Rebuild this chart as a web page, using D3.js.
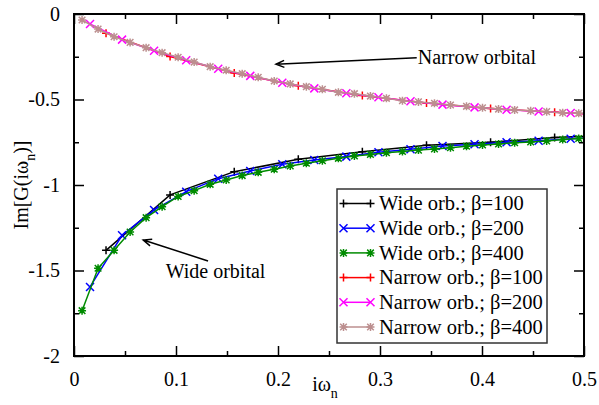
<!DOCTYPE html>
<html>
<head>
<meta charset="utf-8">
<script src="https://cdn.jsdelivr.net/npm/d3@7"></script>
</head>
<body style="margin:0;background:#fff">
<svg id="chart" width="599" height="405" style="display:block"></svg>
<script>
// Matsubara frequencies (last one sits past the right edge)
var omega100 = [0.0314, 0.0942, 0.1571, 0.2199, 0.2827, 0.3456, 0.4084, 0.4712, 0.5341];
var omega200 = [0.0157, 0.0471, 0.0785, 0.1100, 0.1414, 0.1728, 0.2042, 0.2356, 0.2670, 0.2985,
                0.3299, 0.3613, 0.3927, 0.4241, 0.4555, 0.4869, 0.5184];
var omega400 = [0.0079, 0.0236, 0.0393, 0.0550, 0.0707, 0.0864, 0.1021, 0.1178, 0.1335, 0.1492,
                0.1649, 0.1806, 0.1963, 0.2120, 0.2278, 0.2435, 0.2592, 0.2749, 0.2906, 0.3063,
                0.3220, 0.3377, 0.3534, 0.3691, 0.3848, 0.4005, 0.4162, 0.4320, 0.4477, 0.4634,
                0.4791, 0.4948, 0.5105];

var wide100 = [-1.382, -1.058, -0.922, -0.850, -0.805, -0.768, -0.750, -0.722, -0.705];
var wide200 = [-1.596, -1.294, -1.146, -1.039, -0.963, -0.918, -0.879, -0.854, -0.834, -0.809,
               -0.791, -0.772, -0.762, -0.750, -0.741, -0.729, -0.718];
var wide400 = [-1.735, -1.487, -1.382, -1.275, -1.191, -1.127, -1.067, -1.033, -0.996, -0.971,
               -0.945, -0.926, -0.908, -0.889, -0.873, -0.858, -0.844, -0.830, -0.821, -0.811,
               -0.804, -0.796, -0.789, -0.782, -0.773, -0.766, -0.760, -0.753, -0.748, -0.742,
               -0.734, -0.728, -0.722];

var narrow100 = [-0.112, -0.248, -0.345, -0.419, -0.476, -0.520, -0.553, -0.575, -0.593];
var narrow200 = [-0.058, -0.150, -0.215, -0.270, -0.320, -0.362, -0.402, -0.435, -0.463, -0.487,
                 -0.510, -0.530, -0.546, -0.560, -0.570, -0.579, -0.588];
var narrow400 = [-0.035, -0.088, -0.133, -0.166, -0.197, -0.226, -0.253, -0.281, -0.308, -0.329,
                 -0.349, -0.370, -0.392, -0.409, -0.425, -0.440, -0.458, -0.466, -0.480, -0.493,
                 -0.507, -0.514, -0.522, -0.532, -0.540, -0.548, -0.556, -0.561, -0.566, -0.571,
                 -0.577, -0.581, -0.585];

var seriesNames = ['Wide orb.; \u03b2=100', 'Wide orb.; \u03b2=200', 'Wide orb.; \u03b2=400',
                   'Narrow orb.; \u03b2=100', 'Narrow orb.; \u03b2=200', 'Narrow orb.; \u03b2=400'];
var seriesColors = ['#000000', '#0000ff', '#008b00', '#ff0000', '#ff00ff', '#bc8f8f'];
var seriesSymbols = ['plus', 'cross', 'star', 'plus', 'cross', 'star'];

var xTicks = [0, 0.1, 0.2, 0.3, 0.4, 0.5];
var xTickLabels = ['0', '0.1', '0.2', '0.3', '0.4', '0.5'];
var yTicks = [0, -0.5, -1, -1.5, -2];
var yTickLabels = ['0', '-0.5', '-1', '-1.5', '-2'];
var xMinor = [0.05, 0.15, 0.25, 0.35, 0.45];
var yMinor = [-0.25, -0.75, -1.25, -1.75];

var FONT = 'Liberation Serif';

var series = [
  {x: omega100, y: wide100}, {x: omega200, y: wide200}, {x: omega400, y: wide400},
  {x: omega100, y: narrow100}, {x: omega200, y: narrow200}, {x: omega400, y: narrow400}
].map((s, i) => ({
  name: seriesNames[i], color: seriesColors[i], symbol: seriesSymbols[i],
  values: s.x.map((v, j) => [v, s.y[j]])
}));

var pLeft = 74, pRight = 584, pTop = 14, pBottom = 356;

var x = d3.scaleLinear().domain([0, 0.5]).range([pLeft, pRight]);
var y = d3.scaleLinear().domain([-2, 0]).range([pBottom, pTop]);

var svg = d3.select('#chart');

svg.append('defs').append('clipPath').attr('id', 'plotclip')
  .append('rect').attr('x', pLeft).attr('y', pTop)
  .attr('width', pRight - pLeft).attr('height', pBottom - pTop);

function symbolPath(type) {
  var s = 4, c = 3.3;
  var plus = `M${-s},0H${s}M0,${-s}V${s}`;
  var cross = `M${-c},${-c}L${c},${c}M${-c},${c}L${c},${-c}`;
  if (type === 'plus') return plus;
  if (type === 'cross') return `M${-s},${-s}L${s},${s}M${-s},${s}L${s},${-s}`;
  return plus + cross;
}

var line = d3.line().x(d => x(d[0])).y(d => y(d[1]));

var plot = svg.append('g').attr('clip-path', 'url(#plotclip)');

series.forEach(function (s) {
  var g = plot.append('g');
  g.append('path')
    .datum(s.values)
    .attr('fill', 'none')
    .attr('stroke', s.color)
    .attr('stroke-width', 1.5)
    .attr('d', line);
  g.selectAll('path.sym')
    .data(s.values)
    .join('path')
    .attr('class', 'sym')
    .attr('transform', d => `translate(${x(d[0])},${y(d[1])})`)
    .attr('d', symbolPath(s.symbol))
    .attr('fill', 'none')
    .attr('stroke', s.color)
    .attr('stroke-width', 1.5);
});

// axes: ticks point inward on all four sides
function drawAxis(axis, transform) {
  var g = svg.append('g').attr('transform', transform).call(axis)
    .attr('font-family', FONT).attr('font-size', 20);
  g.select('.domain').remove();
  g.selectAll('.tick line').attr('stroke', '#000').attr('stroke-width', 1.5);
  g.selectAll('.tick text').attr('fill', '#000');
  return g;
}

drawAxis(d3.axisBottom(x).tickValues(xTicks).tickSizeInner(-10).tickSizeOuter(0)
  .tickPadding(16).tickFormat((d, i) => xTickLabels[i]), `translate(0,${pBottom})`);
drawAxis(d3.axisBottom(x).tickValues(xMinor).tickSize(-5).tickFormat(''), `translate(0,${pBottom})`);
drawAxis(d3.axisTop(x).tickValues(xTicks).tickSize(-10).tickFormat(''), `translate(0,${pTop})`);
drawAxis(d3.axisTop(x).tickValues(xMinor).tickSize(-5).tickFormat(''), `translate(0,${pTop})`);

drawAxis(d3.axisLeft(y).tickValues(yTicks).tickSizeInner(-10).tickSizeOuter(0)
  .tickPadding(14).tickFormat((d, i) => yTickLabels[i]), `translate(${pLeft},0)`);
drawAxis(d3.axisLeft(y).tickValues(yMinor).tickSize(-5).tickFormat(''), `translate(${pLeft},0)`);
drawAxis(d3.axisRight(y).tickValues(yTicks).tickSize(-10).tickFormat(''), `translate(${pRight},0)`);
drawAxis(d3.axisRight(y).tickValues(yMinor).tickSize(-5).tickFormat(''), `translate(${pRight},0)`);

svg.append('rect')
  .attr('x', pLeft).attr('y', pTop)
  .attr('width', pRight - pLeft).attr('height', pBottom - pTop)
  .attr('fill', 'none').attr('stroke', '#000').attr('stroke-width', 2);

// axis titles
var xt = svg.append('text')
  .attr('x', (pLeft + pRight) / 2 - 4).attr('y', 391)
  .attr('text-anchor', 'middle').attr('font-size', 20);
xt.append('tspan').text('i\u03c9');
xt.append('tspan').attr('dy', 7).attr('font-size', 14).text('n');

var yt = svg.append('text')
  .attr('transform', `translate(28,${(pTop + pBottom) / 2}) rotate(-90)`)
  .attr('text-anchor', 'middle').attr('font-size', 20);
yt.append('tspan').text('Im[G(i\u03c9');
yt.append('tspan').attr('dy', 7).attr('font-size', 14).text('n');
yt.append('tspan').attr('dy', -7).text(')]');

// annotations
function arrow(x1, y1, x2, y2) {
  var p1 = [x(x1), y(y1)], p2 = [x(x2), y(y2)];
  var a = Math.atan2(p2[1] - p1[1], p2[0] - p1[0]);
  var L = 9, w = 0.4;
  var h1 = [p2[0] - L * Math.cos(a - w), p2[1] - L * Math.sin(a - w)];
  var h2 = [p2[0] - L * Math.cos(a + w), p2[1] - L * Math.sin(a + w)];
  svg.append('path')
    .attr('d', `M${p1}L${p2}M${h1}L${p2}L${h2}`)
    .attr('fill', 'none').attr('stroke', '#000').attr('stroke-width', 1.5);
}

svg.append('text').attr('x', x(0.337)).attr('y', y(-0.292))
  .attr('font-size', 20).text('Narrow orbital');
arrow(0.336, -0.2556, 0.198, -0.294);

svg.append('text').attr('x', x(0.0899)).attr('y', y(-1.544))
  .attr('font-size', 20).text('Wide orbital');
arrow(0.1314, -1.444, 0.0679, -1.322);

// legend
var legend = svg.append('g').attr('transform', 'translate(337,189)');
legend.append('rect')
  .attr('width', 210).attr('height', 154)
  .attr('fill', '#fff').attr('stroke', '#333').attr('stroke-width', 1.5);

var rows = legend.selectAll('g.row')
  .data(series)
  .join('g')
  .attr('class', 'row')
  .attr('transform', (d, i) => `translate(0,${14.5 + i * 24.7})`);

rows.append('line')
  .attr('x1', 6.5).attr('x2', 33.5)
  .attr('stroke', d => d.color).attr('stroke-width', 1.5);

rows.selectAll('path')
  .data(d => [[6.5, d], [33.5, d]])
  .join('path')
  .attr('transform', d => `translate(${d[0]},0)`)
  .attr('d', d => symbolPath(d[1].symbol))
  .attr('fill', 'none')
  .attr('stroke', d => d[1].color)
  .attr('stroke-width', 1.5);

rows.append('text')
  .attr('x', 42).attr('dy', '0.33em')
  .attr('font-size', 20.5)
  .text(d => d.name);

// serif on every text and tspan
svg.selectAll('text, tspan')
  .attr('font-family', FONT)
  .style('font-family', `"${FONT}"`);
</script>
</body>
</html>
